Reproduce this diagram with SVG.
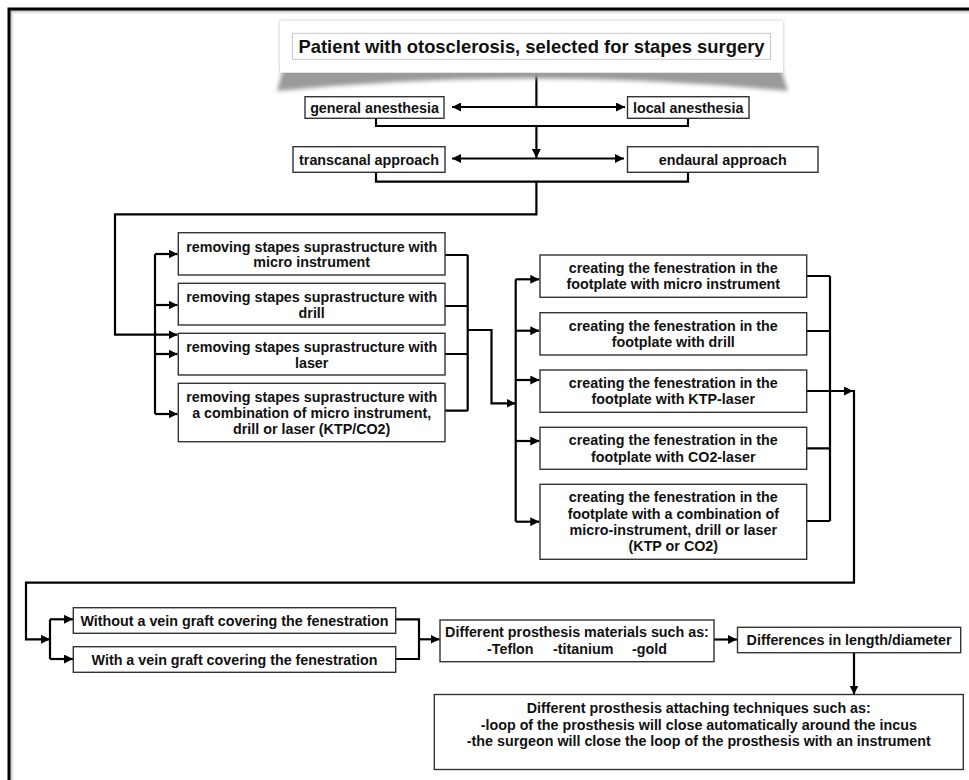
<svg xmlns="http://www.w3.org/2000/svg" width="969" height="780" viewBox="0 0 969 780">
<style>
.box{fill:#fff;stroke:#333;stroke-width:1.4}
.t{font-family:"Liberation Sans",Arial,sans-serif;font-weight:bold;font-size:14.3px;text-anchor:middle;fill:#111}
.c{fill:none;stroke:#000;stroke-width:2.2}
.a{marker-end:url(#ah)}
.d{marker-start:url(#ah);marker-end:url(#ah)}
</style>
<defs>
<marker id="ah" viewBox="0 0 10 10" refX="10" refY="5" markerUnits="userSpaceOnUse" markerWidth="9" markerHeight="9" orient="auto-start-reverse">
<path d="M0,0 L10,5 L0,10 Z" fill="#000"/>
</marker>
<filter id="blur" x="-10%" y="-50%" width="120%" height="200%"><feGaussianBlur stdDeviation="2.2"/></filter>
<filter id="glow" x="-5%" y="-20%" width="110%" height="140%"><feDropShadow dx="0" dy="0" stdDeviation="1.4" flood-color="#999" flood-opacity="0.7"/></filter>
<filter id="fs"><feGaussianBlur stdDeviation="1.2"/></filter>
</defs>
<rect width="969" height="780" fill="#fff"/>
<!-- frame -->
<rect x="11" y="11" width="1100" height="1100" fill="none" stroke="#aaa" stroke-width="2" filter="url(#fs)"/>
<rect x="9" y="9" width="1100" height="1100" fill="none" stroke="#000" stroke-width="3"/>

<g id="connectors">
<path class="c" d="M536.4,73 V107"/>
<path class="c d" d="M452,107 H625"/>
<path class="c" d="M376,118.3 V126 H688 V118.3"/>
<path class="c a" d="M536.4,126 V158"/>
<path class="c d" d="M452,158.5 H624"/>
<path class="c" d="M376,172.3 V181.7 H688 V172.3"/>
<path class="c a" d="M536.4,181.7 V214.3 H115 V334.7 H177.5"/>
<path class="c" d="M155,254 V414"/>
<path class="c a" d="M155,254 H177.5"/>
<path class="c a" d="M155,305 H177.5"/>
<path class="c a" d="M155,354 H177.5"/>
<path class="c a" d="M155,414 H177.5"/>
<path class="c" d="M445,255 H467.7 M445,306 H467.7 M445,354 H467.7 M445,410.7 H467.7 M467.7,255 V410.7"/>
<path class="c a" d="M467.7,330 H491.5 V403.3 H515.5"/>
<path class="c" d="M515.7,279.3 V521.7"/>
<path class="c a" d="M515.7,279.3 H539.3"/>
<path class="c a" d="M515.7,330.7 H539.3"/>
<path class="c a" d="M515.7,380 H539.3"/>
<path class="c a" d="M515.7,441 H539.3"/>
<path class="c a" d="M515.7,521.7 H539.3"/>
<path class="c" d="M806.7,276 H830 M806.7,331 H830 M806.7,448.3 H830 M806.7,521 H830 M830,276 V521"/>
<path class="c a" d="M806.7,391 H853"/>
<path class="c a" d="M854,390 V582.7 H26 V639.3 H50"/>
<path class="c" d="M50,619.3 V659"/>
<path class="c a" d="M50,619.3 H73"/>
<path class="c a" d="M50,659 H73"/>
<path class="c" d="M395.7,619.3 H419 V659 H395.7"/>
<path class="c a" d="M419,639.3 H439.5"/>
<path class="c a" d="M714,639.5 H737"/>
<path class="c a" d="M854,652.7 V694.5"/>
</g>

<g id="start">
<path d="M284,66 L780,66 L788,91 Q532,66 277,91 Z" fill="#9a9a9a" filter="url(#blur)"/>
<rect x="280" y="20.7" width="503" height="52" fill="#fff" filter="url(#glow)"/>
<rect x="292.5" y="33.3" width="478" height="26" fill="#fff" stroke="#c8c8c8" stroke-width="1"/>
<text class="t" x="531.5" y="53.3" style="font-size:18.4px">Patient with otosclerosis, selected for stapes surgery</text>
</g>

<g id="general">
<rect class="box" x="305" y="96.7" width="139" height="21.6"/>
<text class="t" x="374.5" y="112.5">general anesthesia</text>
</g>
<g id="local">
<rect class="box" x="627.5" y="96.7" width="121.5" height="21.6"/>
<text class="t" x="688.2" y="112.5">local anesthesia</text>
</g>
<g id="transcanal">
<rect class="box" x="293" y="146.7" width="152" height="25.6"/>
<text class="t" x="369" y="164.5">transcanal approach</text>
</g>
<g id="endaural">
<rect class="box" x="627.5" y="146.7" width="190.5" height="25.6"/>
<text class="t" x="722.7" y="164.5">endaural approach</text>
</g>

<g id="rem1">
<rect class="box" x="178.3" y="232.7" width="266.7" height="42.3"/>
<text class="t" x="311.7" y="251.7">removing stapes suprastructure with<tspan x="311.7" y="267.3">micro instrument</tspan></text>
</g>
<g id="rem2">
<rect class="box" x="178.3" y="283.3" width="266.7" height="41.7"/>
<text class="t" x="311.7" y="302">removing stapes suprastructure with<tspan x="311.7" y="318.3">drill</tspan></text>
</g>
<g id="rem3">
<rect class="box" x="178.3" y="333.3" width="266.7" height="41.7"/>
<text class="t" x="311.7" y="352">removing stapes suprastructure with<tspan x="311.7" y="368.3">laser</tspan></text>
</g>
<g id="rem4">
<rect class="box" x="178.3" y="383.3" width="266.7" height="58.4"/>
<text class="t" x="311.7" y="401.5">removing stapes suprastructure with<tspan x="311.7" y="418">a combination of micro instrument,</tspan><tspan x="311.7" y="434.3">drill or laser (KTP/CO2)</tspan></text>
</g>

<g id="fen1">
<rect class="box" x="540" y="255" width="266.7" height="42.3"/>
<text class="t" x="673.3" y="273">creating the fenestration in the<tspan x="673.3" y="289.3">footplate with micro instrument</tspan></text>
</g>
<g id="fen2">
<rect class="box" x="540" y="312.7" width="266.7" height="42.3"/>
<text class="t" x="673.3" y="330.7">creating the fenestration in the<tspan x="673.3" y="347">footplate with drill</tspan></text>
</g>
<g id="fen3">
<rect class="box" x="540" y="370" width="266.7" height="42.3"/>
<text class="t" x="673.3" y="388">creating the fenestration in the<tspan x="673.3" y="404.3">footplate with KTP-laser</tspan></text>
</g>
<g id="fen4">
<rect class="box" x="540" y="427.3" width="266.7" height="42"/>
<text class="t" x="673.3" y="445.2">creating the fenestration in the<tspan x="673.3" y="461.5">footplate with CO2-laser</tspan></text>
</g>
<g id="fen5">
<rect class="box" x="540" y="484.3" width="266.7" height="75"/>
<text class="t" x="673.3" y="502.4">creating the fenestration in the<tspan x="673.3" y="518.7">footplate with a combination of</tspan><tspan x="673.3" y="535">micro-instrument, drill or laser</tspan><tspan x="673.3" y="551.3">(KTP or CO2)</tspan></text>
</g>

<g id="without">
<rect class="box" x="73.3" y="607.7" width="322.4" height="25.6"/>
<text class="t" x="234.5" y="625.5">Without a vein graft covering the fenestration</text>
</g>
<g id="with">
<rect class="box" x="73.3" y="646.7" width="322.4" height="25.6"/>
<text class="t" x="234.5" y="664.5">With a vein graft covering the fenestration</text>
</g>
<g id="materials">
<rect class="box" x="440" y="620" width="274" height="41.7"/>
<text class="t" x="577" y="637.4">Different prosthesis materials such as:</text>
<text class="t" style="text-anchor:start" y="653.7"><tspan x="487">-Teflon</tspan><tspan x="553">-titanium</tspan><tspan x="632">-gold</tspan></text>
</g>
<g id="differences">
<rect class="box" x="737.5" y="627.3" width="223.2" height="25.4"/>
<text class="t" x="849.1" y="645">Differences in length/diameter</text>
</g>
<g id="attaching">
<rect class="box" x="434.3" y="694.5" width="529" height="75"/>
<text class="t" x="698.8" y="713.3">Different prosthesis attaching techniques such as:<tspan x="698.8" y="729.5">-loop of the prosthesis will close automatically around the incus</tspan><tspan x="698.8" y="745.8">-the surgeon will close the loop of the prosthesis with an instrument</tspan></text>
</g>
</svg>
